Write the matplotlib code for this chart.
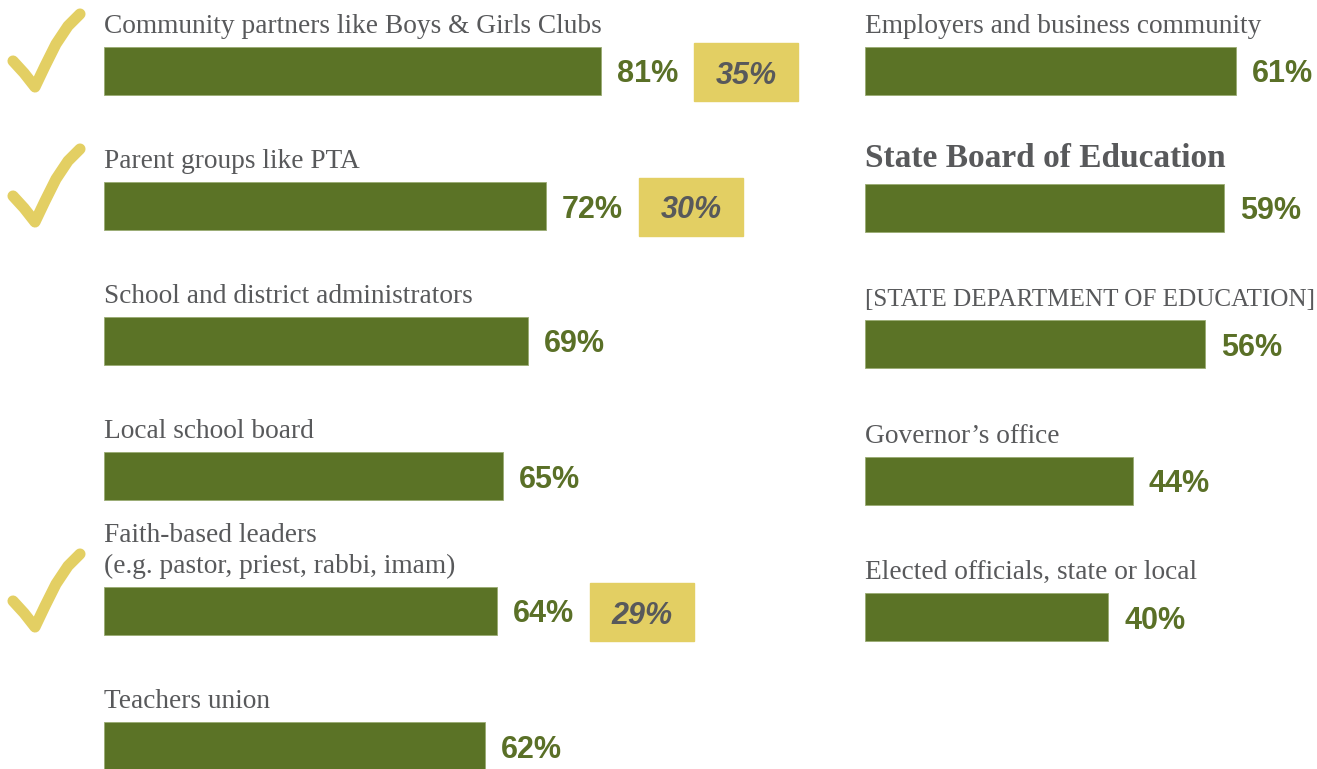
import matplotlib.pyplot as plt
from matplotlib.patches import Rectangle
from matplotlib.lines import Line2D
from matplotlib.transforms import IdentityTransform

left_labels = [
    "Community partners like Boys & Girls Clubs",
    "Parent groups like PTA",
    "School and district administrators",
    "Local school board",
    "Faith-based leaders\n(e.g. pastor, priest, rabbi, imam)",
    "Teachers union",
]
left_values = [81, 72, 69, 65, 64, 62]
left_extra = [35, 30, None, None, 29, None]

right_labels = [
    "Employers and business community",
    "State Board of Education",
    "[STATE DEPARTMENT OF EDUCATION]",
    "Governor\u2019s office",
    "Elected officials, state or local",
]
right_values = [61, 59, 56, 44, 40]
right_bold = [False, True, False, False, False]

GREEN = "#5b7326"
GREEN_TXT = "#5a7027"
YELLOW = "#e3cf63"
GRAY = "#58595b"

W, H = 1317, 769
fig = plt.figure(figsize=(W / 100, H / 100), dpi=100)
label_texts = []


def make_axes(x0, ppx, row0, step):
    # axes covering full height, x scale in percent, rows in units
    ax = fig.add_axes([x0 / W, 0, 100 * ppx / W, 1])
    ax.set_xlim(0, 100)
    ax.set_ylim((H - row0) / step, -row0 / step)
    ax.axis("off")
    return ax


def draw_column(ax, labels, values, ppx, step, bold=None, extra=None):
    bar_h = 48 / step
    for i, (lab, v) in enumerate(zip(labels, values)):
        ax.barh(i, v, height=bar_h, color=GREEN, edgecolor="#9aab72", linewidth=0.6)
        ax.text(v + 16 / ppx, i, f"{v}%", ha="left", va="center_baseline",
                fontsize=22, fontweight="bold", color=GREEN_TXT,
                family="Liberation Sans", clip_on=False)
        lines = lab.split("\n")[::-1]
        is_bold = bold[i] if bold else False
        for k, line in enumerate(lines):
            y = i - bar_h / 2 - (14 + 31 * k) / step
            if is_bold:
                y = i - bar_h / 2 - 17 / step
            t = ax.text(0, y, line, ha="left", va="baseline",
                        fontsize=24 if is_bold else 19.7,
                        fontweight="bold" if is_bold else "normal",
                        color=GRAY, family="Liberation Serif", clip_on=False)
            label_texts.append(t)
        if extra and extra[i] is not None:
            bx = v + 93 / ppx
            bw = 104 / ppx
            bh = 58 / step
            ax.add_patch(Rectangle((bx, i - bh / 2 + 1 / step), bw, bh,
                                   color=YELLOW, clip_on=False))
            ax.text(bx + bw / 2, i + 1 / step, f"{extra[i]}%", ha="center",
                    va="center_baseline", fontsize=22, fontweight="bold",
                    style="italic", color=GRAY, family="Liberation Sans",
                    clip_on=False)


def draw_check(ax, i):
    # hand-drawn style check mark next to a row, offsets in pixels
    cx, cy = ax.transData.transform((0, i))
    pts = [(-91, -10), (-80, 2), (-69, 16), (-59, -5), (-48, -27), (-36, -45), (-24, -57)]
    xs = [cx + p[0] for p in pts]
    ys = [cy - p[1] for p in pts]
    fig.add_artist(Line2D(xs, ys, transform=IdentityTransform(), color=YELLOW,
                          linewidth=8, solid_capstyle="round",
                          solid_joinstyle="round"))


L_PPX, R_PPX = 6.14, 6.08
L_STEP, R_STEP = 135, 136.6

axl = make_axes(104, L_PPX, 71, L_STEP)
axr = make_axes(865, R_PPX, 71, R_STEP)

draw_column(axl, left_labels, left_values, L_PPX, L_STEP, extra=left_extra)
draw_column(axr, right_labels, right_values, R_PPX, R_STEP, bold=right_bold)

for i, e in enumerate(left_extra):
    if e is not None:
        draw_check(axl, i)

# shrink any label that runs past the right edge
renderer = fig.canvas.get_renderer()
for t in label_texts:
    bb = t.get_window_extent(renderer)
    if bb.x1 > W - 3:
        t.set_fontsize(t.get_fontsize() * (W - 3 - bb.x0) / bb.width)

fig.savefig("out.png", dpi=100)
